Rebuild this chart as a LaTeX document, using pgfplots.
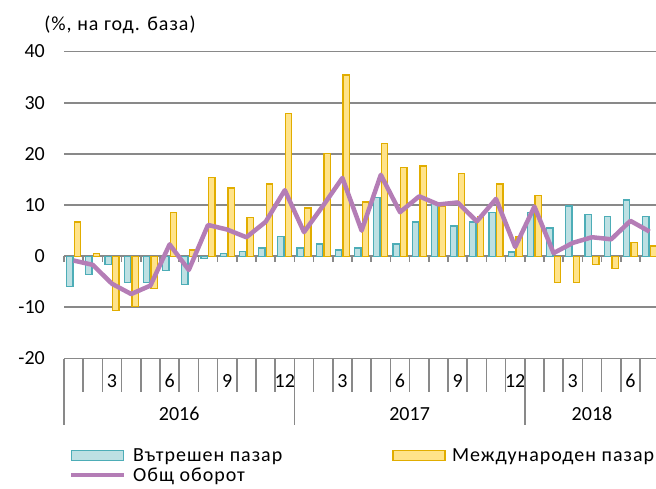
\documentclass[border=0pt]{standalone}
\usepackage{fontspec}
\setmainfont{Carlito}
\newfontfamily\cyr[LetterSpace=5]{Carlito}
\usepackage{pgfplots}
\pgfplotsset{compat=1.18}
\definecolor{gridgray}{RGB}{137,137,137}
\definecolor{bfill}{RGB}{189,224,227}
\definecolor{bedge}{RGB}{77,173,183}
\definecolor{yfill}{RGB}{255,227,138}
\definecolor{yedge}{RGB}{225,173,0}
\definecolor{purp}{RGB}{180,125,182}
\newcommand{\fs}{\fontsize{20}{24}\selectfont}
\pgfplotsset{
  barleg/.style={legend image code/.code={\draw[##1] (0pt,-5pt) rectangle (52pt,5pt);}},
  lineleg/.style={legend image code/.code={\draw[##1] (0pt,0pt) -- (53pt,0pt);}},
}
\begin{document}
\begin{tikzpicture}
\useasboundingbox (0,0) rectangle (656pt,488pt);
\clip (0,0) rectangle (656pt,488pt);
\node[font=\fs\cyr, anchor=center] at (120pt,463pt) {(\%, на год. база)};
\begin{axis}[
  at={(64pt,129.5pt)}, anchor=south west,
  scale only axis, width=595.2pt, height=307pt,
  xmin=0.5, xmax=31.5, ymin=-20, ymax=40,
  clip=false,
  axis line style={draw=none},
  major tick length=0pt,
  ytick={-20,-10,...,40},
  ymajorgrids, grid style={gridgray, line width=1.8pt},
  xtick={3,6,9,12,15,18,21,24,27,30},
  xticklabels={3,6,9,12,3,6,9,12,3,6},
  ticklabel style={font=\fs, inner sep=0pt},
  /pgf/number format/assume math mode=true,
  yticklabel style={anchor=east, xshift=-19pt},
  xticklabel style={anchor=center, yshift=-22.5pt},
  legend columns=2,
  legend cell align=left,
  legend style={at={(axis description cs:0.0084,-0.2915)}, anchor=north west,
    draw=none, fill=none, inner sep=0pt, font=\fs\cyr, row sep=5pt, column sep=6.5pt,
    nodes={inner sep=0pt},
    /tikz/every even column/.append style={column sep=110pt}},
]
% tick marks on the zero line
\pgfplotsinvokeforeach{0.5,1.5,...,31.5}{\draw[gridgray, line width=1.5pt] (axis cs:#1,0) -- ++(0pt,-6pt);}
% category separators
\pgfplotsinvokeforeach{0.5,1.5,...,31.5}{\draw[gridgray, line width=1.5pt] (axis cs:#1,-20) -- ++(0pt,-33.5pt);}
\pgfplotsinvokeforeach{0.5,12.5,24.5,31.5}{\draw[gridgray, line width=1.5pt] (axis cs:#1,-20) -- ++(0pt,-66.5pt);}
\node[font=\fs] at (axis cs:6.5,-20) [yshift=-55.5pt] {2016};
\node[font=\fs] at (axis cs:18.5,-20) [yshift=-55.5pt] {2017};
\node[font=\fs] at (axis cs:28,-20) [yshift=-55.5pt] {2018};

\addplot[ybar, bar width=6.3pt, bar shift=-3.85pt, fill=bfill, draw=bedge, line width=1.3pt, barleg]
coordinates {(1,-5.9) (2,-3.6) (3,-1.6) (4,-5.2) (5,-5.2) (6,-2.8) (7,-5.6) (8,-0.5) (9,0.5) (10,0.85)
(11,1.6) (12,3.9) (13,1.6) (14,2.35) (15,1.2) (16,1.6) (17,11.4) (18,2.35) (19,6.7) (20,10.3)
(21,5.9) (22,6.7) (23,8.6) (24,0.8) (25,8.6) (26,5.5) (27,9.8) (28,8.2) (29,7.8) (30,11.0) (31,7.8)};

\addplot[ybar, bar width=6.3pt, bar shift=3.85pt, fill=yfill, draw=yedge, line width=1.3pt, barleg]
coordinates {(1,6.7) (2,0.5) (3,-10.6) (4,-9.9) (5,-6.3) (6,8.6) (7,1.2) (8,15.4) (9,13.3) (10,7.5)
(11,14.1) (12,27.9) (13,9.4) (14,20.0) (15,35.4) (16,10.6) (17,22.0) (18,17.3) (19,17.6) (20,9.8)
(21,16.1) (22,7.8) (23,14.1) (24,3.9) (25,11.8) (26,-5.2) (27,-5.2) (28,-1.6) (29,-2.4) (30,2.7) (31,2.0)};

\addplot[purp, line width=4.5pt, line join=round, mark=none, lineleg]
coordinates {(1,-0.85) (2,-1.7) (3,-5.4) (4,-7.4) (5,-5.75) (6,2.3) (7,-2.7) (8,6.1) (9,5.2) (10,3.7)
(11,6.7) (12,12.9) (13,4.7) (14,9.9) (15,15.3) (16,5.0) (17,15.9) (18,8.6) (19,11.7) (20,10.1)
(21,10.5) (22,6.8) (23,11.2) (24,1.8) (25,9.7) (26,0.6) (27,2.6) (28,3.7) (29,3.3) (30,6.9) (31,4.8)};

\legend{Вътрешен пазар, Международен пазар, Общ оборот}
\end{axis}
\end{tikzpicture}
\end{document}
